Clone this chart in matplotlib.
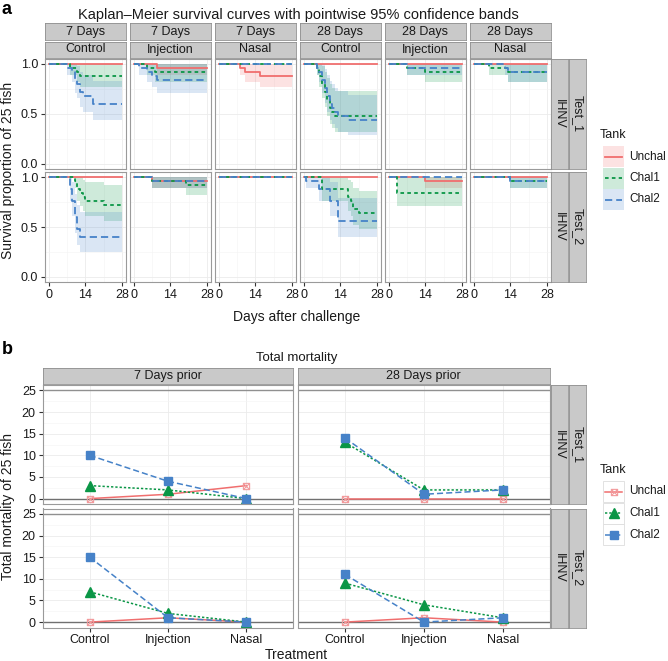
import matplotlib
matplotlib.use("Agg")

import matplotlib.pyplot as plt
import numpy as np
from matplotlib.lines import Line2D
from matplotlib.patches import Rectangle
from matplotlib.path import Path

plt.rcParams["font.family"] = ["Liberation Sans", "DejaVu Sans"]

W, H = 668, 661
N_FISH = 25

TANKS = ["Unchal", "Chal1", "Chal2"]
TREATMENTS = ["Control", "Injection", "Nasal"]
PRIORS = ["7 Days", "28 Days"]
TESTS = ["Test_1", "Test_2"]

# day of death of each fish, per treatment: (Unchal, Chal1, Chal2)
deaths_t1_7d = {
    "Control": ([], [8, 11, 12], [7, 9, 10, 10, 11, 12, 12, 13, 17, 17]),
    "Injection": ([9], [5, 8], [2, 5, 7, 9]),
    "Nasal": ([8, 10, 16], [], []),
}
deaths_t1_28d = {
    "Control": ([], [5, 6, 6, 7, 7, 8, 8, 9, 9, 10, 10, 11, 12],
                [5, 6, 7, 7, 8, 8, 9, 9, 10, 10, 11, 12, 13, 17]),
    "Injection": ([], [7, 14], [7]),
    "Nasal": ([], [6, 13], [12, 13]),
}
deaths_t2_7d = {
    "Control": ([], [10, 11, 11, 12, 13, 14, 21],
                [8, 8, 8, 9, 9, 9, 10, 10, 10, 10, 11, 11, 11, 12, 12]),
    "Injection": ([7], [7, 20], [7]),
    "Nasal": ([], [], []),
}
deaths_t2_28d = {
    "Control": ([], [7, 7, 7, 17, 17, 18, 19, 19, 21],
                [1, 6, 6, 10, 10, 10, 13, 13, 13, 13, 13]),
    "Injection": ([14], [3, 3, 3, 3], []),
    "Nasal": ([], [14], [14]),
}

# total mortality, Control / Injection / Nasal
mort_t1_7d = {"Unchal": [0, 1, 3], "Chal1": [3, 2, 0], "Chal2": [10, 4, 0]}
mort_t1_28d = {"Unchal": [0, 0, 0], "Chal1": [13, 2, 2], "Chal2": [14, 1, 2]}
mort_t2_7d = {"Unchal": [0, 1, 0], "Chal1": [7, 2, 0], "Chal2": [15, 1, 0]}
mort_t2_28d = {"Unchal": [0, 1, 0], "Chal1": [9, 4, 1], "Chal2": [11, 0, 1]}

COLORS = {"Unchal": "#F06E6E", "Chal1": "#0A9646", "Chal2": "#4682C8"}
KM_STYLES = {"Unchal": "-", "Chal1": (0, (2, 1.8)), "Chal2": (0, (4, 2.2))}
MORT_STYLES = {"Unchal": "-", "Chal1": (0, (1.5, 1.3)), "Chal2": (0, (4, 2))}

STRIP_FC = "#C9C9C9"
STRIP_EC = "#8F8F8F"
BORDER = "#9A9A9A"
TXT = "#1A1A1A"

box_cross = Path(
    [(-1, -1), (1, -1), (1, 1), (-1, 1), (-1, -1), (-1, -1), (1, 1), (-1, 1), (1, -1)],
    [Path.MOVETO, Path.LINETO, Path.LINETO, Path.LINETO, Path.CLOSEPOLY,
     Path.MOVETO, Path.LINETO, Path.MOVETO, Path.LINETO],
)
MARKERS = {
    "Unchal": dict(marker=box_cross, ms=4.5, mfc="none", mec="#F29A9C", mew=0.8),
    "Chal1": dict(marker="^", ms=6.5, mfc=COLORS["Chal1"], mec=COLORS["Chal1"]),
    "Chal2": dict(marker="s", ms=5.5, mfc=COLORS["Chal2"], mec=COLORS["Chal2"]),
}

fig = plt.figure(figsize=(W / 100, H / 100), dpi=100)


def px_axes(l, t, r, b):
    return fig.add_axes([l / W, 1 - b / H, (r - l) / W, (b - t) / H])


def strip(l, t, r, b, text, rot=0):
    ax = px_axes(l, t, r, b)
    ax.set_facecolor(STRIP_FC)
    ax.set_xticks([])
    ax.set_yticks([])
    for s in ax.spines.values():
        s.set_color(STRIP_EC)
        s.set_linewidth(0.6)
    ax.text(0.5, 0.5, text, transform=ax.transAxes, ha="center", va="center",
            rotation=rot, fontsize=9, color=TXT)


def style_panel(ax):
    for s in ax.spines.values():
        s.set_color(BORDER)
        s.set_linewidth(0.8)
    ax.grid(True, which="major", color="#EBEBEB", lw=0.6)
    ax.grid(True, which="minor", color="#F4F4F4", lw=0.4)
    ax.set_axisbelow(True)
    ax.tick_params(which="major", length=3, width=0.8, color="#333333",
                   labelsize=9, labelcolor=TXT, pad=2)
    ax.tick_params(which="minor", length=0)


def km_curve(days, t_end=28):
    days = np.sort(np.asarray(days, dtype=float))
    t, s, lo, hi = [0.0], [1.0], [1.0], [1.0]
    at_risk = N_FISH
    surv, var = 1.0, 0.0
    for d in np.unique(days):
        k = int(np.sum(days == d))
        surv *= (at_risk - k) / at_risk
        var += k / (at_risk * (at_risk - k))
        at_risk -= k
        se = np.sqrt(var)
        t.append(d)
        s.append(surv)
        lo.append(surv * np.exp(-1.96 * se))
        hi.append(min(1.0, surv * np.exp(1.96 * se)))
    t.append(t_end)
    s.append(s[-1])
    lo.append(lo[-1])
    hi.append(hi[-1])
    return np.array(t), np.array(s), np.array(lo), np.array(hi)


# ---------------- a: Kaplan-Meier ----------------
km_rows = [(deaths_t1_7d, deaths_t1_28d), (deaths_t2_7d, deaths_t2_28d)]
row_px = [(58.5, 168.5), (172, 282)]
col_left = [45 + i * 85 for i in range(6)]
col_w = 80.5

for r, (d7, d28) in enumerate(km_rows):
    top, bot = row_px[r]
    c = 0
    for prior, block in zip(PRIORS, (d7, d28)):
        for treat in TREATMENTS:
            ax = px_axes(col_left[c], top, col_left[c] + col_w, bot)
            style_panel(ax)
            for tank, days in zip(TANKS, block[treat]):
                t, s, lo, hi = km_curve(days)
                ax.fill_between(t, lo, hi, step="post", color=COLORS[tank],
                                alpha=0.2, lw=0)
            for tank, days in zip(TANKS, block[treat]):
                t, s, lo, hi = km_curve(days)
                ax.step(t, s, where="post", color=COLORS[tank], lw=1.3,
                        ls=KM_STYLES[tank])
            ax.set_xlim(-1.4, 29.4)
            ax.set_ylim(-0.05, 1.05)
            ax.set_xticks([0, 14, 28])
            ax.set_xticks([7, 21], minor=True)
            ax.set_yticks([0, 0.5, 1.0])
            ax.set_yticks([0.25, 0.75], minor=True)
            if c > 0:
                ax.tick_params(axis="y", which="major", length=0, labelleft=False)
            else:
                ax.set_yticklabels(["0.0", "0.5", "1.0"])
            if r == 0:
                ax.tick_params(axis="x", which="major", length=0, labelbottom=False)
                strip(col_left[c], 23, col_left[c] + col_w, 40, prior)
                strip(col_left[c], 41.5, col_left[c] + col_w, 57.5, treat)
            c += 1
    strip(551, top, 567.5, bot, "IHNV", rot=-90)
    strip(569, top, 585.5, bot, TESTS[r], rot=-90)

fig.text(2 / W, 1 - 9 / H, "a", fontsize=13, fontweight="bold", va="center")
fig.text(298 / W, 1 - 15 / H,
         "Kaplan\u2013Meier survival curves with pointwise 95% confidence bands",
         ha="center", va="center", fontsize=10.5, color=TXT)
fig.text(297 / W, 1 - 317 / H, "Days after challenge", ha="center", va="center",
         fontsize=10, color=TXT)
fig.text(8 / W, 1 - 170 / H, "Survival proportion of 25 fish", rotation=90,
         ha="center", va="center", fontsize=10, color=TXT)

# ---------------- b: total mortality ----------------
mort_rows = [(mort_t1_7d, mort_t1_28d), (mort_t2_7d, mort_t2_28d)]
b_rows = [(385, 504), (508.5, 627.5)]
b_cols = [(42.7, 293.3), (297.7, 550)]
xpos = np.arange(1, len(TREATMENTS) + 1)

for r, row in enumerate(mort_rows):
    top, bot = b_rows[r]
    for c, mort in enumerate(row):
        l, rr = b_cols[c]
        ax = px_axes(l, top, rr, bot)
        style_panel(ax)
        ax.axhline(0, color="#707070", lw=1.0, zorder=1.5)
        ax.axhline(25, color="#909090", lw=1.0, zorder=1.5)
        for tank in TANKS:
            ax.plot(xpos, mort[tank], color=COLORS[tank], lw=1.1,
                    ls=MORT_STYLES[tank], **MARKERS[tank])
        ax.set_xlim(0.4, 3.6)
        ax.set_ylim(-1.25, 26.25)
        ax.set_xticks(xpos)
        ax.set_xticklabels(TREATMENTS)
        ax.set_yticks(np.arange(0, 26, 5))
        ax.set_yticks(np.arange(2.5, 25, 5), minor=True)
        if c > 0:
            ax.tick_params(axis="y", which="major", length=0, labelleft=False)
        if r == 0:
            ax.tick_params(axis="x", which="major", length=0, labelbottom=False)
            strip(l, 367.5, rr, 384, ["7 Days prior", "28 Days prior"][c])
    strip(551, top, 567.5, bot, "IHNV", rot=-90)
    strip(569, top, 585.5, bot, TESTS[r], rot=-90)

fig.text(2 / W, 1 - 350 / H, "b", fontsize=13, fontweight="bold", va="center")
fig.text(297 / W, 1 - 358 / H, "Total mortality", ha="center", va="center",
         fontsize=9.5, color=TXT)
fig.text(296 / W, 1 - 655 / H, "Treatment", ha="center", va="center",
         fontsize=10, color=TXT)
fig.text(8 / W, 1 - 506 / H, "Total mortality of 25 fish", rotation=90,
         ha="center", va="center", fontsize=10, color=TXT)

# ---------------- legends (drawn in pixel space) ----------------
lg = fig.add_axes([0, 0, 1, 1])
lg.set_xlim(0, W)
lg.set_ylim(H, 0)
lg.axis("off")


def legend_block(y_title, key_kind):
    lg.text(600, y_title, "Tank", ha="left", va="center", fontsize=9, color=TXT)
    y0 = y_title + 11
    for i, tank in enumerate(TANKS):
        yt = y0 + i * 21.5
        yc = yt + 10.5
        if key_kind == "km":
            lg.add_patch(Rectangle((603, yt), 21, 21, facecolor=COLORS[tank],
                                   alpha=0.2, edgecolor="none"))
            lg.add_line(Line2D([605, 622], [yc, yc], color=COLORS[tank], lw=1.3,
                               ls=KM_STYLES[tank]))
        else:
            lg.add_patch(Rectangle((603, yt), 21, 21, facecolor="white",
                                   edgecolor="#DDDDDD", lw=0.6))
            lg.add_line(Line2D([605, 622], [yc, yc], color=COLORS[tank], lw=1.1,
                               ls=MORT_STYLES[tank]))
            lg.add_line(Line2D([613.5], [yc], ls="none", **MARKERS[tank]))
        lg.text(629, yc, tank, ha="left", va="center", fontsize=8.5, color=TXT)


legend_block(135, "km")
legend_block(470, "mort")

fig.savefig("out.png", dpi=100)
